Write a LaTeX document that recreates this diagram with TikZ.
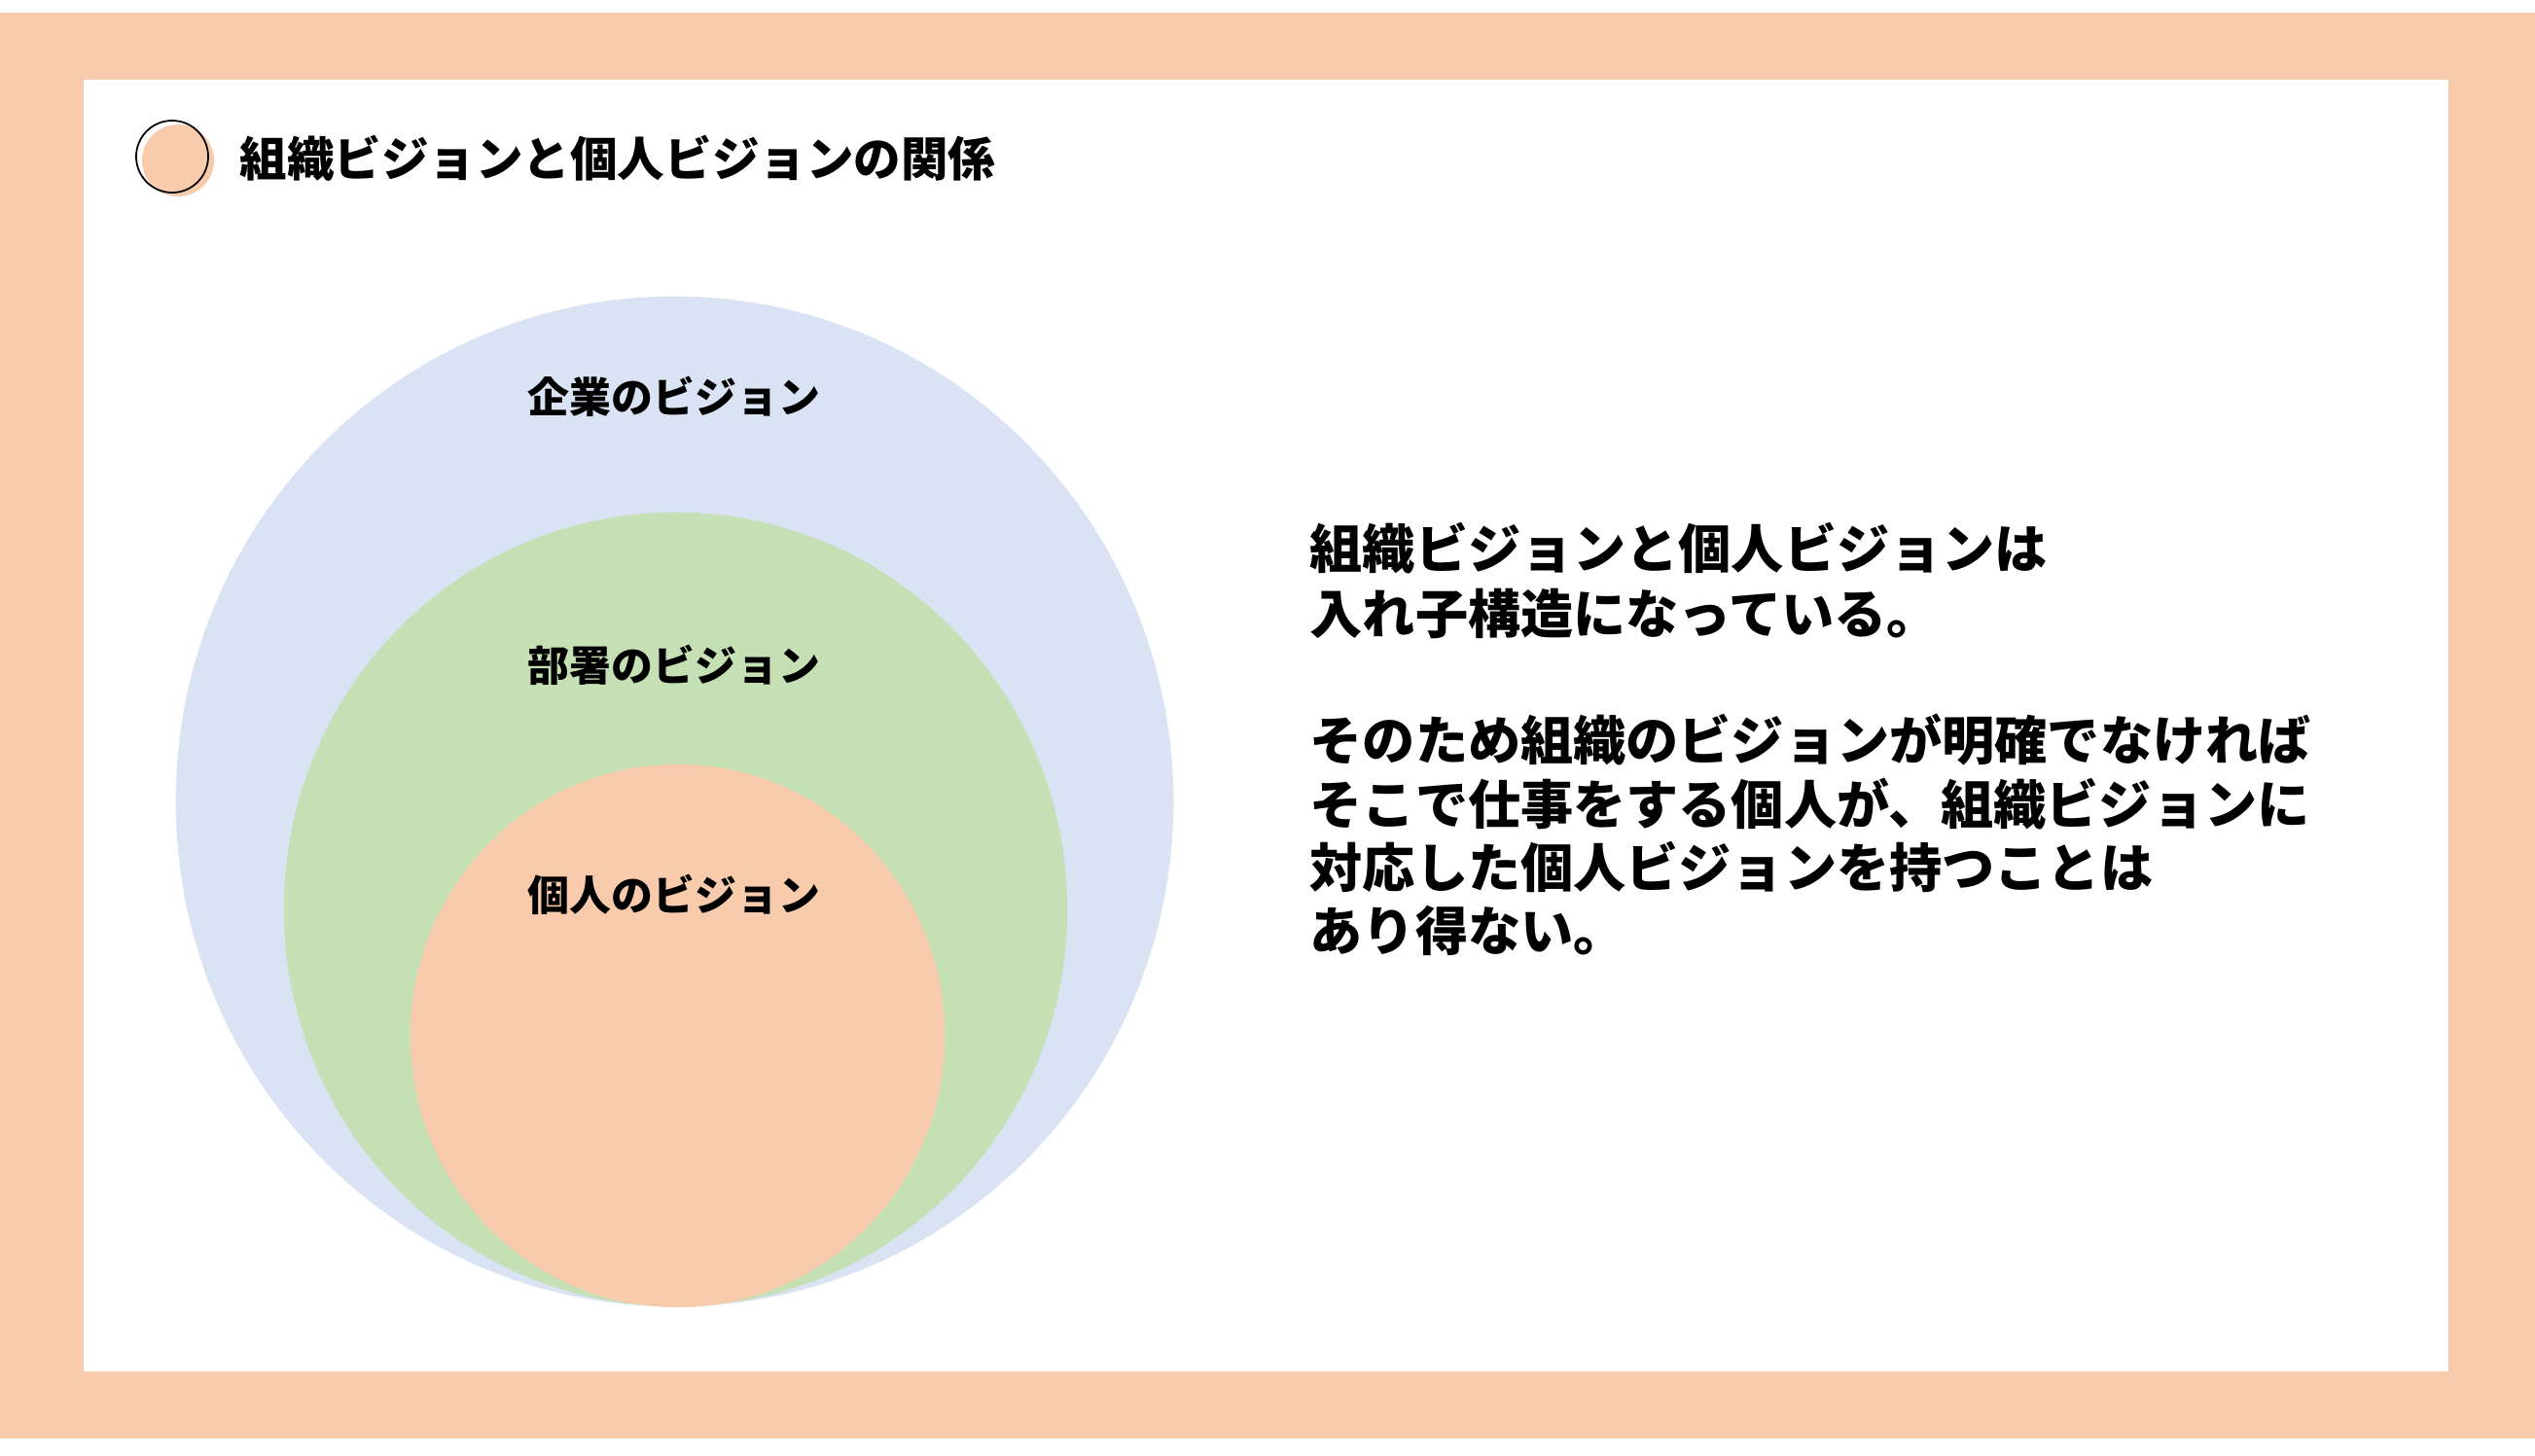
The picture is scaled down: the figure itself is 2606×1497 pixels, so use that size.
\documentclass[tikz,border=0pt]{standalone}
\usepackage{fontspec}
\setmainfont{Noto Sans CJK JP}
\definecolor{peach}{HTML}{F8CBAD}
\definecolor{paleblue}{HTML}{DAE3F3}
\definecolor{palegreen}{HTML}{C5E0B4}

\begin{document}
\begin{tikzpicture}[x=0.01cm, y=-0.01cm,
    vlabel/.style={anchor=base, inner sep=0pt, font=\fontsize{12.2pt}{14pt}\selectfont\bfseries},
    bodyline/.style={anchor=base west, inner sep=0pt, font=\fontsize{15.4pt}{19pt}\selectfont\bfseries}]
    \useasboundingbox (0, 0) rectangle (2606, 1497);
    \fill[peach] (0, 13) rectangle (2606, 1479);
    \fill[white] (86, 82) rectangle (2517, 1410);

    % title mark
    \fill[peach] (183, 165) circle[radius=0.37cm];
    \draw[line width=0.5pt] (177, 161) circle[radius=0.37cm];
    \node[anchor=base west, inner sep=0pt, font=\fontsize{13.8pt}{16pt}\selectfont\bfseries] (title) at (246, 182) {組織ビジョンと個人ビジョンの関係};

    % nested visions
    \fill[paleblue] (693.5, 824) ellipse[x radius=5.125cm, y radius=5.19cm];
    \fill[palegreen] (694.5, 935) ellipse[x radius=4.025cm, y radius=4.08cm];
    \fill[peach] (696.5, 1065) ellipse[x radius=2.745cm, y radius=2.79cm];
    \node[vlabel] (corp) at (693, 424) {企業のビジョン};
    \node[vlabel] (dept) at (693, 700) {部署のビジョン};
    \node[vlabel] (person) at (693, 936) {個人のビジョン};

    % explanation
    \foreach \yy/\txt [count=\i] in {584/組織ビジョンと個人ビジョンは, 651/入れ子構造になっている。,
        781/そのため組織のビジョンが明確でなければ, 847/そこで仕事をする個人が、組織ビジョンに,
        912/対応した個人ビジョンを持つことは, 977/あり得ない。}
        \node[bodyline] (line\i) at (1346, \yy) {\txt};
\end{tikzpicture}
\end{document}
